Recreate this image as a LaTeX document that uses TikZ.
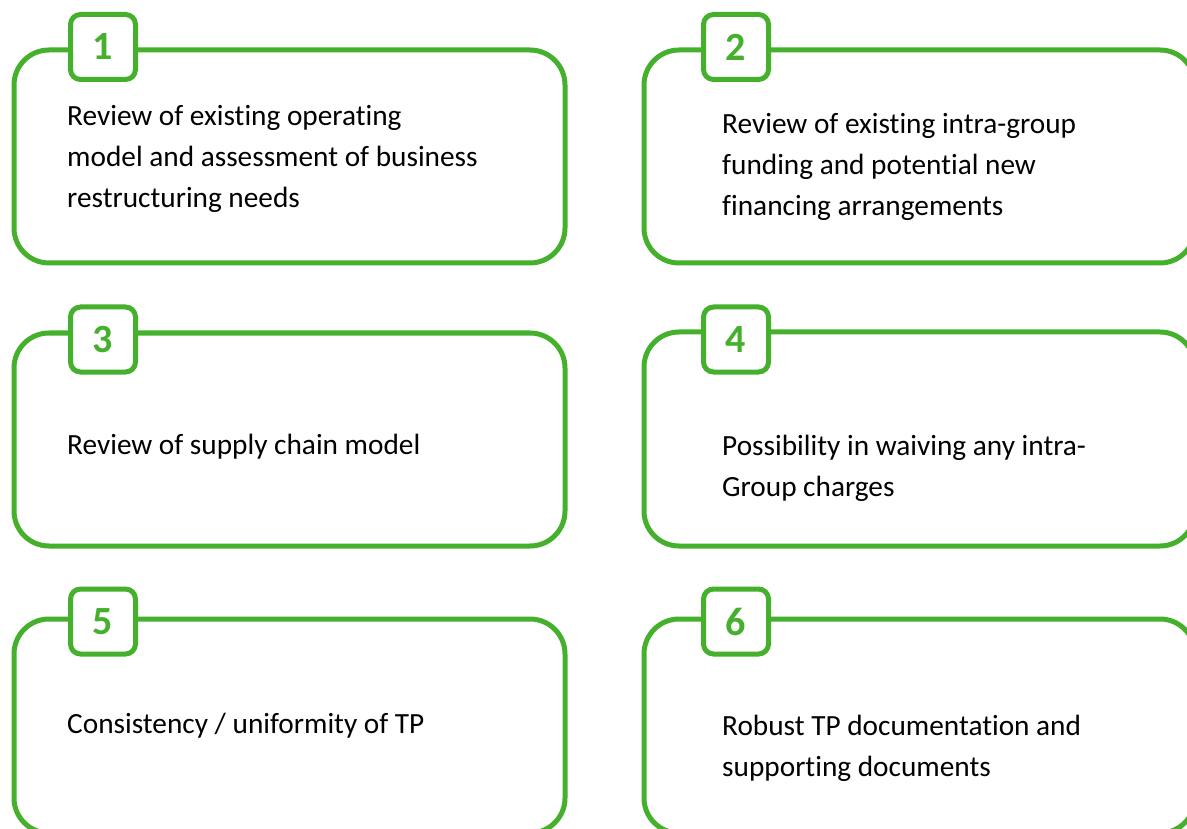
\documentclass[tikz,border=0pt]{standalone}
\usepackage{fontspec}
\setmainfont{Carlito}[Ligatures=NoCommon]
\definecolor{stepgreen}{RGB}{68,176,44}
\newcommand{\steplines}[1]{\begin{tabular}[t]{@{}l@{}}#1\end{tabular}}
\tikzset{
  x=1pt, y=-1pt,
  frame/.style={draw=stepgreen, line width=5pt, rounded corners=35pt,
    minimum width=551pt, inner sep=0pt},
  numbox/.style={draw=stepgreen, fill=white, line width=5pt, rounded corners=10pt,
    minimum width=65pt, minimum height=65pt, inner sep=0pt,
    text=stepgreen, font=\fontsize{40}{40}\selectfont\bfseries},
  steptext/.style={anchor=base west, inner sep=0pt,
    font=\fontsize{29.3}{41}\selectfont, text=black},
}
\begin{document}
\begin{tikzpicture}
\useasboundingbox (0,0) rectangle (1187,829);
\clip (0,0) rectangle (1187,829);
% outer frames
\node[frame, minimum height=213pt] (b1) at (289.5,156.5) {};
\node[frame, minimum height=213pt] (b2) at (919.5,156.5) {};
\node[frame, minimum height=213pt] (b3) at (289.5,439.5) {};
\node[frame, minimum height=214pt] (b4) at (919.5,439) {};
\node[frame, minimum height=214pt] (b5) at (289.5,726) {};
\node[frame, minimum height=214pt] (b6) at (919.5,726) {};
% number tabs
\node[numbox] (n1) at (103,47) {1};
\node[numbox] (n2) at (736,47) {2};
\node[numbox] (n3) at (103,339.5) {3};
\node[numbox] (n4) at (736,339.5) {4};
\node[numbox] (n5) at (103,621.5) {5};
\node[numbox] (n6) at (736,621.5) {6};
% step descriptions (baseline of the first line at the given point)
\node[steptext] (t1) at (67,126) {\steplines{Review of existing operating\\model and assessment of business\\restructuring needs}};
\node[steptext] (t2) at (722,134) {\steplines{Review of existing intra-group\\funding and potential new\\financing arrangements}};
\node[steptext] (t3) at (67,454) {Review of supply chain model};
\node[steptext] (t4) at (722,455) {\steplines{Possibility in waiving any intra-\\Group charges}};
\node[steptext] (t5) at (67,733) {Consistency / uniformity of TP};
\node[steptext] (t6) at (722,735) {\steplines{Robust TP documentation and\\supporting documents}};
\end{tikzpicture}
\end{document}
